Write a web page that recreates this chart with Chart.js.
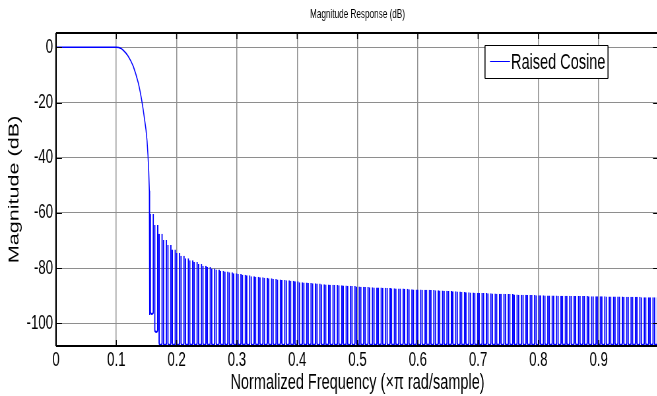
<!DOCTYPE html>
<html><head><meta charset="utf-8">
<script src="https://cdn.jsdelivr.net/npm/chart.js@4.4.1/dist/chart.umd.min.js"></script>
<style>
html,body{margin:0;padding:0;background:#fff;overflow:hidden;width:657px;height:396px}
#wrap{width:660px;height:396px;overflow:hidden}
#c{transform:scaleX(0.66);transform-origin:0 0;display:block}
</style>
</head><body>
<div id="wrap"><canvas id="c" width="1000" height="396"></canvas></div>
<script>
// ---------- data ----------
const chartTitle = 'Magnitude Response (dB)';
const xTitle = 'Normalized Frequency (\u00d7\u03c0 rad/sample)';
const yTitle = 'Magnitude (dB)';
const seriesName = 'Raised Cosine';

const xTicks = [0, 0.1, 0.2, 0.3, 0.4, 0.5, 0.6, 0.7, 0.8, 0.9];
const yTicks = [0, -20, -40, -60, -80, -100];
const xRange = [0, 1];
const yRange = [-108.2, 5.2];

// passband + transition band
const mainFreq = [0, 0.1, 0.104, 0.108, 0.1117, 0.116, 0.12, 0.1242, 0.1282, 0.1325, 0.1365,
                  0.1395, 0.142, 0.1445, 0.1465, 0.1493, 0.151, 0.1525, 0.1538, 0.1548, 0.1553, 0.1553];
const mainDb   = [0, 0, -0.1, -0.4, -1.1, -2.1, -3.3, -5.0, -6.9, -9.8, -12.9,
                  -16, -19, -22.5, -25.5, -30, -34, -39, -45, -52, -58, -97];

// stopband side lobes: centre frequency and peak level of each lobe
const lobeFreq = [
  0.1589, 0.1662, 0.1735, 0.1807, 0.1880, 0.1953, 0.2025, 0.2098, 0.2171, 0.2243,
  0.2316, 0.2389, 0.2461, 0.2534, 0.2607, 0.2680, 0.2752, 0.2825, 0.2898, 0.2970,
  0.3043, 0.3116, 0.3188, 0.3261, 0.3334, 0.3407, 0.3479, 0.3552, 0.3625, 0.3697,
  0.3770, 0.3843, 0.3915, 0.3988, 0.4061, 0.4134, 0.4206, 0.4279, 0.4352, 0.4424,
  0.4497, 0.4570, 0.4642, 0.4715, 0.4788, 0.4861, 0.4933, 0.5006, 0.5079, 0.5151,
  0.5224, 0.5297, 0.5369, 0.5442, 0.5515, 0.5588, 0.5660, 0.5733, 0.5806, 0.5878,
  0.5951, 0.6024, 0.6096, 0.6169, 0.6242, 0.6315, 0.6387, 0.6460, 0.6533, 0.6605,
  0.6678, 0.6751, 0.6823, 0.6896, 0.6969, 0.7042, 0.7114, 0.7187, 0.7260, 0.7332,
  0.7405, 0.7478, 0.7550, 0.7623, 0.7696, 0.7769, 0.7841, 0.7914, 0.7987, 0.8059,
  0.8132, 0.8205, 0.8277, 0.8350, 0.8423, 0.8496, 0.8568, 0.8641, 0.8714, 0.8786,
  0.8859, 0.8932, 0.9004, 0.9077, 0.9150, 0.9223, 0.9295, 0.9368, 0.9441, 0.9513,
  0.9586, 0.9659, 0.9731, 0.9804, 0.9877, 0.9950];
const lobePeakDb = [
  -60.4, -64.4, -67.5, -69.8, -71.6, -73.2, -74.5, -75.5, -76.4, -77.1,
  -77.8, -78.5, -79.1, -79.6, -80.1, -80.5, -80.9, -81.2, -81.5, -81.8,
  -82.1, -82.4, -82.6, -82.9, -83.1, -83.3, -83.5, -83.7, -83.9, -84.1,
  -84.3, -84.4, -84.6, -84.7, -85.1, -85.2, -85.4, -85.5, -85.6, -85.8,
  -85.9, -86.0, -86.1, -86.2, -86.3, -86.4, -86.5, -86.6, -86.7, -86.8,
  -86.9, -87.0, -87.0, -87.1, -87.2, -87.3, -87.4, -87.4, -87.5, -87.6,
  -87.7, -87.7, -87.8, -87.8, -87.9, -88.0, -88.1, -88.2, -88.3, -88.4,
  -88.5, -88.6, -88.7, -88.8, -88.9, -89.0, -89.0, -89.1, -89.2, -89.3,
  -89.3, -89.4, -89.4, -89.5, -89.6, -89.6, -89.7, -89.7, -89.8, -89.8,
  -89.9, -89.9, -89.9, -90.0, -90.0, -90.0, -90.1, -90.1, -90.1, -90.1,
  -90.2, -90.2, -90.2, -90.2, -90.3, -90.3, -90.3, -90.3, -90.4, -90.4,
  -90.4, -90.4, -90.5, -90.5, -90.5, -90.5];
// the first nulls that stay above the bottom of the axes
const lobeNullDb = [-97, -103.5];

// ---------- styling ----------
// The canvas is drawn wide and squeezed horizontally by SX (like the reference figure).
const SX = 0.66;
const px = v => v / SX;           // display px (horizontal) -> canvas px
const BLUE = '#0000ff';
const GRID = '#8e8e8e';
const SANS = "'Liberation Sans', Arial, sans-serif";

const mainData = mainFreq.map((f, i) => ({x: f, y: mainDb[i]}));
const lobeData = lobeFreq.map((f, i) => ({
  x: f,
  y: [i < lobeNullDb.length ? lobeNullDb[i] : yRange[0], lobePeakDb[i]]
}));

const framePlugin = {
  id: 'frame',
  afterDatasetsDraw(chart) {
    const {ctx, chartArea: a, scales: {x, y}} = chart;
    ctx.save();
    ctx.strokeStyle = '#000';
    // inward tick marks on all four sides
    ctx.lineWidth = px(1);
    ctx.beginPath();
    x.ticks.forEach(t => {
      const p = x.getPixelForValue(t.value);
      ctx.moveTo(p, a.top); ctx.lineTo(p, a.top + 6);
      ctx.moveTo(p, a.bottom); ctx.lineTo(p, a.bottom - 6);
    });
    ctx.stroke();
    ctx.lineWidth = 1;
    ctx.beginPath();
    y.ticks.forEach(t => {
      const p = Math.round(y.getPixelForValue(t.value)) + 0.5;
      ctx.moveTo(a.left, p); ctx.lineTo(a.left + px(6), p);
      ctx.moveTo(a.right, p); ctx.lineTo(a.right - px(6), p);
    });
    ctx.stroke();
    // axes box
    ctx.lineWidth = 2;
    ctx.beginPath();
    ctx.moveTo(a.left, a.top); ctx.lineTo(a.right, a.top);
    ctx.moveTo(a.left, a.bottom); ctx.lineTo(a.right, a.bottom);
    ctx.stroke();
    ctx.lineWidth = px(1.5);
    ctx.beginPath();
    ctx.moveTo(a.left, a.top); ctx.lineTo(a.left, a.bottom);
    ctx.moveTo(a.right, a.top); ctx.lineTo(a.right, a.bottom);
    ctx.stroke();

    // legend box
    const bx = a.right - px(174), by = Math.round(a.top + 12) + 0.5, bw = px(123), bh = 33;
    ctx.fillStyle = '#fff';
    ctx.fillRect(bx, by, bw, bh);
    ctx.lineWidth = 1;
    ctx.beginPath();
    ctx.moveTo(bx, by); ctx.lineTo(bx + bw, by);
    ctx.moveTo(bx, by + bh); ctx.lineTo(bx + bw, by + bh);
    ctx.stroke();
    ctx.lineWidth = px(1);
    ctx.beginPath();
    ctx.moveTo(bx, by); ctx.lineTo(bx, by + bh);
    ctx.moveTo(bx + bw, by); ctx.lineTo(bx + bw, by + bh);
    ctx.stroke();
    const ly = by + 16;
    ctx.strokeStyle = BLUE;
    ctx.lineWidth = 1;
    ctx.beginPath();
    ctx.moveTo(bx + px(5), ly); ctx.lineTo(bx + px(25), ly);
    ctx.stroke();
    ctx.fillStyle = '#000';
    ctx.font = "22px " + SANS;
    ctx.textBaseline = 'middle';
    ctx.textAlign = 'left';
    ctx.fillText(chart.data.datasets[0].label, bx + px(26), ly + 1);
    ctx.restore();
  }
};

new Chart(document.getElementById('c'), {
  type: 'line',
  data: {
    datasets: [
      {type: 'line', label: seriesName, data: mainData, borderColor: BLUE, borderWidth: 1.5,
       pointRadius: 0, tension: 0, fill: false},
      {type: 'bar', label: seriesName, data: lobeData, borderColor: BLUE,
       backgroundColor: 'rgba(0,0,0,0)', borderWidth: 2, borderRadius: 4, borderSkipped: 'start',
       barPercentage: 1, categoryPercentage: 1, inflateAmount: 0}
    ]
  },
  options: {
    responsive: false, animation: false, devicePixelRatio: 1,
    layout: {padding: {left: 0, right: 1000 - px(659), top: 0, bottom: 0}},
    plugins: {
      legend: {display: false},
      tooltip: {enabled: false},
      title: {display: true, text: chartTitle, fullSize: false, color: '#000',
              font: {family: SANS, size: 12.4, weight: 'normal'}, padding: {top: 7.5, bottom: 10.6}}
    },
    scales: {
      x: {
        type: 'linear', min: xRange[0], max: xRange[1], offset: false,
        afterBuildTicks: s => { s.ticks = xTicks.map(v => ({value: v})); },
        afterFit: s => { s.height = 50; },
        ticks: {callback: v => String(v), color: '#000', font: {family: SANS, size: 20},
                padding: 2, maxRotation: 0, autoSkip: false},
        grid: {color: GRID, lineWidth: px(1), drawTicks: false, offset: false},
        border: {display: false},
        title: {display: true, text: xTitle, color: '#000', font: {family: SANS, size: 22},
                padding: {top: 0, bottom: 0}}
      },
      y: {
        type: 'linear', min: yRange[0], max: yRange[1],
        afterBuildTicks: s => { s.ticks = yTicks.map(v => ({value: v})); },
        afterFit: s => { s.width = px(56); },
        ticks: {callback: v => String(v), color: '#000', font: {family: SANS, size: 20}, padding: px(3)},
        grid: {color: GRID, lineWidth: 1, drawTicks: false},
        border: {display: false},
        title: {display: true, text: yTitle, color: '#000', font: {family: SANS, size: 21.6},
                padding: {top: 9, bottom: 0}}
      }
    }
  },
  plugins: [framePlugin]
});
</script>
</body></html>
